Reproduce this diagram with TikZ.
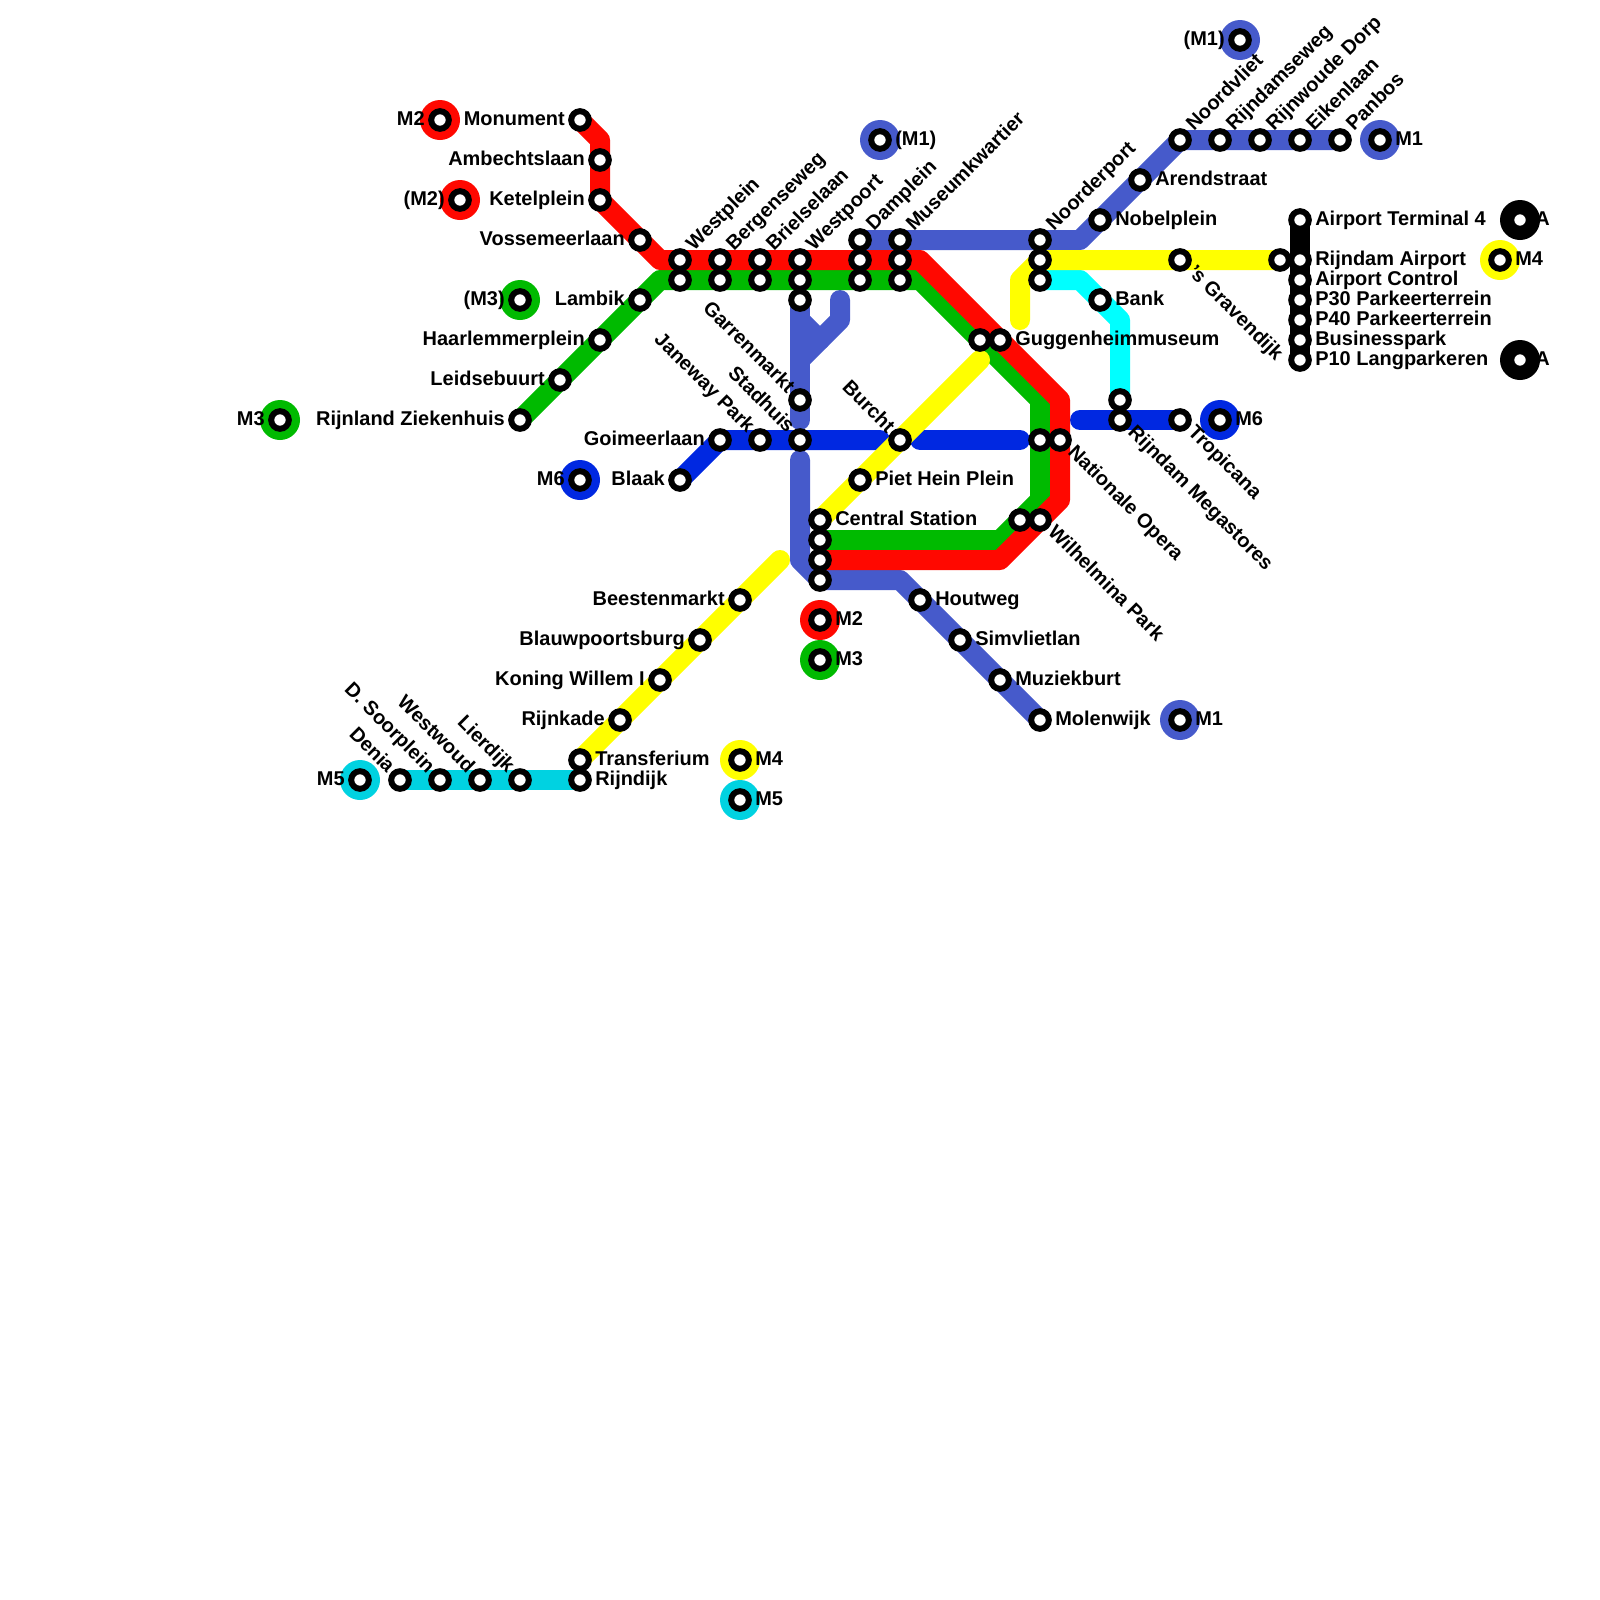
\documentclass[tikz,border=0pt]{standalone}
\usepackage{fontspec}
\setmainfont{Liberation Sans}
\usetikzlibrary{backgrounds}
\definecolor{lineRed}{RGB}{255,8,0}
\definecolor{lineGreen}{RGB}{0,186,0}
\definecolor{lineBlue}{RGB}{0,40,225}
\definecolor{lineIndigo}{RGB}{70,90,203}
\definecolor{lineCyan}{RGB}{0,255,255}
\definecolor{lineTeal}{RGB}{0,210,225}
\definecolor{lineYellow}{RGB}{255,255,0}

\begin{document}
\begin{tikzpicture}[
  x=0.5cm,y=-0.5cm,
  stn/.style={draw=black, circle, fill=white, line width=0.15cm, inner sep=0pt, outer sep=0pt, minimum size=0.44cm},
  term/.style={circle, inner sep=0pt, outer sep=0pt, minimum size=1cm},
  metro/.style={line width=0.5cm, line cap=round, line join=round},
  lblE/.style={font=\bfseries\fontsize{14.2}{14.2}\selectfont, inner sep=0pt, anchor=base west, xshift=0.375cm, yshift=-0.125cm},
  lblW/.style={font=\bfseries\fontsize{14.2}{14.2}\selectfont, inner sep=0pt, anchor=base east, xshift=-0.375cm, yshift=-0.125cm},
  lblUp/.style={font=\bfseries\fontsize{14.2}{14.2}\selectfont, inner sep=0pt, anchor=base west, xshift=0.35cm, yshift=0.2cm, rotate=45},
  lblDn/.style={font=\bfseries\fontsize{14.2}{14.2}\selectfont, inner sep=0pt, anchor=base west, xshift=0.175cm, yshift=-0.325cm, rotate=-45},
  lblBk/.style={font=\bfseries\fontsize{14.2}{14.2}\selectfont, inner sep=0pt, anchor=base east, xshift=-0.325cm, yshift=0.15cm, rotate=-45}
]
\useasboundingbox (0,0) rectangle (80,80);

\node[term, fill=lineRed] (termRedA) at (22,6) {};
\node[term, fill=lineRed] (termRedB) at (23,10) {};
\node[term, fill=lineRed] (termRedC) at (41,31) {};
\node[term, fill=lineGreen] (termGreenA) at (14,21) {};
\node[term, fill=lineGreen] (termGreenB) at (26,15) {};
\node[term, fill=lineGreen] (termGreenC) at (41,33) {};
\node[term, fill=lineBlue] (termBlueA) at (29,24) {};
\node[term, fill=lineBlue] (termBlueB) at (61,21) {};
\node[term, fill=lineIndigo] (termIndigoA) at (44,7) {};
\node[term, fill=lineIndigo] (termIndigoB) at (62,2) {};
\node[term, fill=lineIndigo] (termIndigoC) at (69,7) {};
\node[term, fill=lineIndigo] (termIndigoD) at (59,36) {};
\node[term, fill=lineTeal] (termTealA) at (18,39) {};
\node[term, fill=lineTeal] (termTealB) at (37,40) {};
\node[term, fill=lineYellow] (termYellowA) at (37,38) {};
\node[term, fill=lineYellow] (termYellowB) at (75,13) {};
\node[term, fill=black] (termBlackA) at (76,11) {};
\node[term, fill=black] (termBlackB) at (76,18) {};

\node[stn] (stnRedA) at (22,6) {};
\node[stn] (stnRedB) at (23,10) {};
\node[stn] (stnRedC) at (41,31) {};
\node[stn] (stnGreenA) at (14,21) {};
\node[stn] (stnGreenB) at (26,15) {};
\node[stn] (stnGreenC) at (41,33) {};
\node[stn] (stnBlueA) at (29,24) {};
\node[stn] (stnBlueB) at (61,21) {};
\node[stn] (stnIndigoA) at (44,7) {};
\node[stn] (stnIndigoB) at (62,2) {};
\node[stn] (stnIndigoC) at (69,7) {};
\node[stn] (stnIndigoD) at (59,36) {};
\node[stn] (stnTealA) at (18,39) {};
\node[stn] (stnTealB) at (37,40) {};
\node[stn] (stnYellowA) at (37,38) {};
\node[stn] (stnYellowB) at (75,13) {};
\node[stn] (stnBlackA) at (76,11) {};
\node[stn] (stnBlackB) at (76,18) {};

\node[stn] (monument) at (29,6) {};
\node[stn] (ambecht) at (30,8) {};
\node[stn] (ketel) at (30,10) {};
\node[stn] (vossemeer) at (32,12) {};
\node[stn] (westplein) at (34,13) {};
\node[stn] (westpleinG) at (34,14) {};
\node[stn] (bergen) at (36,13) {};
\node[stn] (bergenG) at (36,14) {};
\node[stn] (brielse) at (38,13) {};
\node[stn] (brielseG) at (38,14) {};
\node[stn] (westpoortR) at (40,13) {};
\node[stn] (westpoortG) at (40,14) {};
\node[stn] (westpoortI) at (40,15) {};
\node[stn] (dampleinI) at (43,12) {};
\node[stn] (dampleinR) at (43,13) {};
\node[stn] (dampleinG) at (43,14) {};
\node[stn] (museumI) at (45,12) {};
\node[stn] (museumR) at (45,13) {};
\node[stn] (museumG) at (45,14) {};
\node[stn] (noorderI) at (52,12) {};
\node[stn] (noorderY) at (52,13) {};
\node[stn] (noorderC) at (52,14) {};
\node[stn] (nobel) at (55,11) {};
\node[stn] (arend) at (57,9) {};
\node[stn] (noordvliet) at (59,7) {};
\node[stn] (rijndamse) at (61,7) {};
\node[stn] (rijnwoude) at (63,7) {};
\node[stn] (eiken) at (65,7) {};
\node[stn] (panbos) at (67,7) {};
\node[stn] (lambik) at (32,15) {};
\node[stn] (haarlem) at (30,17) {};
\node[stn] (leidse) at (28,19) {};
\node[stn] (ziekenhuis) at (26,21) {};
\node[stn] (goimeer) at (36,22) {};
\node[stn] (janeway) at (38,22) {};
\node[stn] (stadhuis) at (40,22) {};
\node[stn] (burcht) at (45,22) {};
\node[stn] (garren) at (40,20) {};
\node[stn] (blaak) at (34,24) {};
\node[stn] (piethein) at (43,24) {};
\node[stn] (centralY) at (41,26) {};
\node[stn] (centralG) at (41,27) {};
\node[stn] (centralR) at (41,28) {};
\node[stn] (centralI) at (41,29) {};
\node[stn] (houtweg) at (46,30) {};
\node[stn] (simvliet) at (48,32) {};
\node[stn] (muziek) at (50,34) {};
\node[stn] (molenwijk) at (52,36) {};
\node[stn] (beesten) at (37,30) {};
\node[stn] (blauw) at (35,32) {};
\node[stn] (koning) at (33,34) {};
\node[stn] (rijnkade) at (31,36) {};
\node[stn] (transfer) at (29,38) {};
\node[stn] (rijndijk) at (29,39) {};
\node[stn] (denia) at (20,39) {};
\node[stn] (soorplein) at (22,39) {};
\node[stn] (westwoud) at (24,39) {};
\node[stn] (lierdijk) at (26,39) {};
\node[stn] (guggenG) at (49,17) {};
\node[stn] (guggenR) at (50,17) {};
\node[stn] (operaG) at (52,22) {};
\node[stn] (operaR) at (53,22) {};
\node[stn] (wilhelG) at (51,26) {};
\node[stn] (wilhelR) at (52,26) {};
\node[stn] (bank) at (55,15) {};
\node[stn] (megaC) at (56,20) {};
\node[stn] (megaB) at (56,21) {};
\node[stn] (tropicana) at (59,21) {};
\node[stn] (gravendijk) at (59,13) {};
\node[stn] (gravendijkB) at (64,13) {};
\node[stn] (terminal) at (65,11) {};
\node[stn] (airport) at (65,13) {};
\node[stn] (control) at (65,14) {};
\node[stn] (parkA) at (65,15) {};
\node[stn] (parkB) at (65,16) {};
\node[stn] (business) at (65,17) {};
\node[stn] (langpark) at (65,18) {};

\coordinate (redA) at (30,7);
\coordinate (redB) at (33,13);
\coordinate (redC) at (46,13);
\coordinate (redD) at (53,20);
\coordinate (redE) at (53,25);
\coordinate (redF) at (50,28);
\coordinate (greenA) at (33,14);
\coordinate (greenB) at (46,14);
\coordinate (greenC) at (52,20);
\coordinate (greenD) at (52,25);
\coordinate (greenE) at (50,27);
\coordinate (indigoA) at (54,12);
\coordinate (indigoB) at (40,16);
\coordinate (indigoC) at (41,17);
\coordinate (indigoD) at (42,16);
\coordinate (indigoE) at (42,15);
\coordinate (indigoF) at (40,18);
\coordinate (indigoG) at (40,21);
\coordinate (indigoH) at (40,23);
\coordinate (indigoJ) at (40,28);
\coordinate (indigoK) at (45,29);
\coordinate (blueA) at (44,22);
\coordinate (blueB) at (46,22);
\coordinate (blueC) at (51,22);
\coordinate (blueD) at (54,21);
\coordinate (yellowA) at (39,28);
\coordinate (yellowB) at (49,18);
\coordinate (yellowC) at (51,16);
\coordinate (yellowD) at (51,14);
\coordinate (cyanA) at (54,14);
\coordinate (cyanB) at (56,16);

\begin{scope}[on background layer]
\draw[metro, draw=lineTeal] (denia.center) -- (rijndijk.center);
\draw[metro, draw=lineCyan] (noorderC.center) -- (cyanA) -- (cyanB) -- (megaC.center);
\draw[metro, draw=black] (terminal.center) -- (langpark.center);
\draw[metro, draw=lineBlue] (blaak.center) -- (goimeer.center) -- (blueA);
\draw[metro, draw=lineBlue] (blueB) -- (blueC);
\draw[metro, draw=lineBlue] (blueD) -- (tropicana.center);
\draw[metro, draw=lineIndigo] (dampleinI.center) -- (indigoA) -- (noordvliet.center) -- (panbos.center);
\draw[metro, draw=lineIndigo] (westpoortI.center) -- (indigoG);
\draw[metro, draw=lineIndigo] (indigoB) -- (indigoC);
\draw[metro, draw=lineIndigo] (indigoE) -- (indigoD) -- (indigoF);
\draw[metro, draw=lineIndigo] (indigoH) -- (indigoJ) -- (centralI.center) -- (indigoK) -- (molenwijk.center);
\draw[metro, draw=lineGreen] (ziekenhuis.center) -- (greenA) -- (greenB) -- (greenC) -- (greenD) -- (greenE) -- (centralG.center);
\draw[metro, draw=lineRed] (monument.center) -- (redA) -- (ketel.center) -- (redB) -- (redC) -- (redD) -- (redE) -- (redF) -- (centralR.center);
\draw[metro, draw=lineYellow] (transfer.center) -- (yellowA);
\draw[metro, draw=lineYellow] (centralY.center) -- (yellowB);
\draw[metro, draw=lineYellow] (yellowC) -- (yellowD) -- (noorderY.center) -- (gravendijkB.center);
\end{scope}

\node[lblW] (lblRedA) at (stnRedA) {M2};
\node[lblW] (lblRedB) at (stnRedB) {(M2)};
\node[lblE] (lblRedC) at (stnRedC) {M2};
\node[lblW] (lblGreenA) at (stnGreenA) {M3};
\node[lblW] (lblGreenB) at (stnGreenB) {(M3)};
\node[lblE] (lblGreenC) at (stnGreenC) {M3};
\node[lblW] (lblBlueA) at (stnBlueA) {M6};
\node[lblE] (lblBlueB) at (stnBlueB) {M6};
\node[lblE] (lblIndigoA) at (stnIndigoA) {(M1)};
\node[lblW] (lblIndigoB) at (stnIndigoB) {(M1)};
\node[lblE] (lblIndigoC) at (stnIndigoC) {M1};
\node[lblE] (lblIndigoD) at (stnIndigoD) {M1};
\node[lblW] (lblTealA) at (stnTealA) {M5};
\node[lblE] (lblTealB) at (stnTealB) {M5};
\node[lblE] (lblYellowA) at (stnYellowA) {M4};
\node[lblE] (lblYellowB) at (stnYellowB) {M4};
\node[lblE] (lblBlackA) at (stnBlackA) {A};
\node[lblE] (lblBlackB) at (stnBlackB) {A};

\node[lblW] (lblMonument) at (monument) {Monument};
\node[lblW] (lblAmbecht) at (ambecht) {Ambechtslaan};
\node[lblW] (lblKetel) at (ketel) {Ketelplein};
\node[lblW] (lblVossemeer) at (vossemeer) {Vossemeerlaan};
\node[lblUp] (lblWestplein) at (westplein) {Westplein};
\node[lblUp] (lblBergen) at (bergen) {Bergenseweg};
\node[lblUp] (lblBrielse) at (brielse) {Brielselaan};
\node[lblUp] (lblWestpoort) at (westpoortR) {Westpoort};
\node[lblUp] (lblDamplein) at (dampleinI) {Damplein};
\node[lblUp] (lblMuseum) at (museumI) {Museumkwartier};
\node[lblUp] (lblNoorder) at (noorderI) {Noorderport};
\node[lblE] (lblNobel) at (nobel) {Nobelplein};
\node[lblE] (lblArend) at (arend) {Arendstraat};
\node[lblUp] (lblNoordvliet) at (noordvliet) {Noordvliet};
\node[lblUp] (lblRijndamse) at (rijndamse) {Rijndamseweg};
\node[lblUp] (lblRijnwoude) at (rijnwoude) {Rijnwoude Dorp};
\node[lblUp] (lblEiken) at (eiken) {Eikenlaan};
\node[lblUp] (lblPanbos) at (panbos) {Panbos};
\node[lblW] (lblLambik) at (lambik) {Lambik};
\node[lblW] (lblHaarlem) at (haarlem) {Haarlemmerplein};
\node[lblW] (lblLeidse) at (leidse) {Leidsebuurt};
\node[lblW] (lblZiekenhuis) at (ziekenhuis) {Rijnland Ziekenhuis};
\node[lblW] (lblGoimeer) at (goimeer) {Goimeerlaan};
\node[lblBk] (lblJaneway) at (janeway) {Janeway Park};
\node[lblBk] (lblStadhuis) at (stadhuis) {Stadhuis};
\node[lblBk] (lblBurcht) at (burcht) {Burcht};
\node[lblBk] (lblGarren) at (garren) {Garrenmarkt};
\node[lblW] (lblBlaak) at (blaak) {Blaak};
\node[lblE] (lblPiethein) at (piethein) {Piet Hein Plein};
\node[lblE] (lblCentral) at (centralY) {Central Station};
\node[lblE] (lblHoutweg) at (houtweg) {Houtweg};
\node[lblE] (lblSimvliet) at (simvliet) {Simvlietlan};
\node[lblE] (lblMuziek) at (muziek) {Muziekburt};
\node[lblE] (lblMolenwijk) at (molenwijk) {Molenwijk};
\node[lblW] (lblBeesten) at (beesten) {Beestenmarkt};
\node[lblW] (lblBlauw) at (blauw) {Blauwpoortsburg};
\node[lblW] (lblKoning) at (koning) {Koning Willem I};
\node[lblW] (lblRijnkade) at (rijnkade) {Rijnkade};
\node[lblE] (lblTransfer) at (transfer) {Transferium};
\node[lblE] (lblRijndijk) at (rijndijk) {Rijndijk};
\node[lblBk] (lblDenia) at (denia) {Denia};
\node[lblBk] (lblSoorplein) at (soorplein) {D. Soorplein};
\node[lblBk] (lblWestwoud) at (westwoud) {Westwoud};
\node[lblBk] (lblLierdijk) at (lierdijk) {Lierdijk};
\node[lblE] (lblGuggen) at (guggenR) {Guggenheimmuseum};
\node[lblDn] (lblOpera) at (operaR) {Nationale Opera};
\node[lblDn] (lblWilhel) at (wilhelR) {Wilhelmina Park};
\node[lblE] (lblBank) at (bank) {Bank};
\node[lblDn] (lblMega) at (megaB) {Rijndam Megastores};
\node[lblDn] (lblTropicana) at (tropicana) {Tropicana};
\node[lblDn] (lblGravendijk) at (gravendijk) {'s Gravendijk};
\node[lblE] (lblTerminal) at (terminal) {Airport Terminal 4};
\node[lblE] (lblAirport) at (airport) {Rijndam Airport};
\node[lblE] (lblControl) at (control) {Airport Control};
\node[lblE] (lblParkA) at (parkA) {P30 Parkeerterrein};
\node[lblE] (lblParkB) at (parkB) {P40 Parkeerterrein};
\node[lblE] (lblBusiness) at (business) {Businesspark};
\node[lblE] (lblLangpark) at (langpark) {P10 Langparkeren};
\end{tikzpicture}
\end{document}
